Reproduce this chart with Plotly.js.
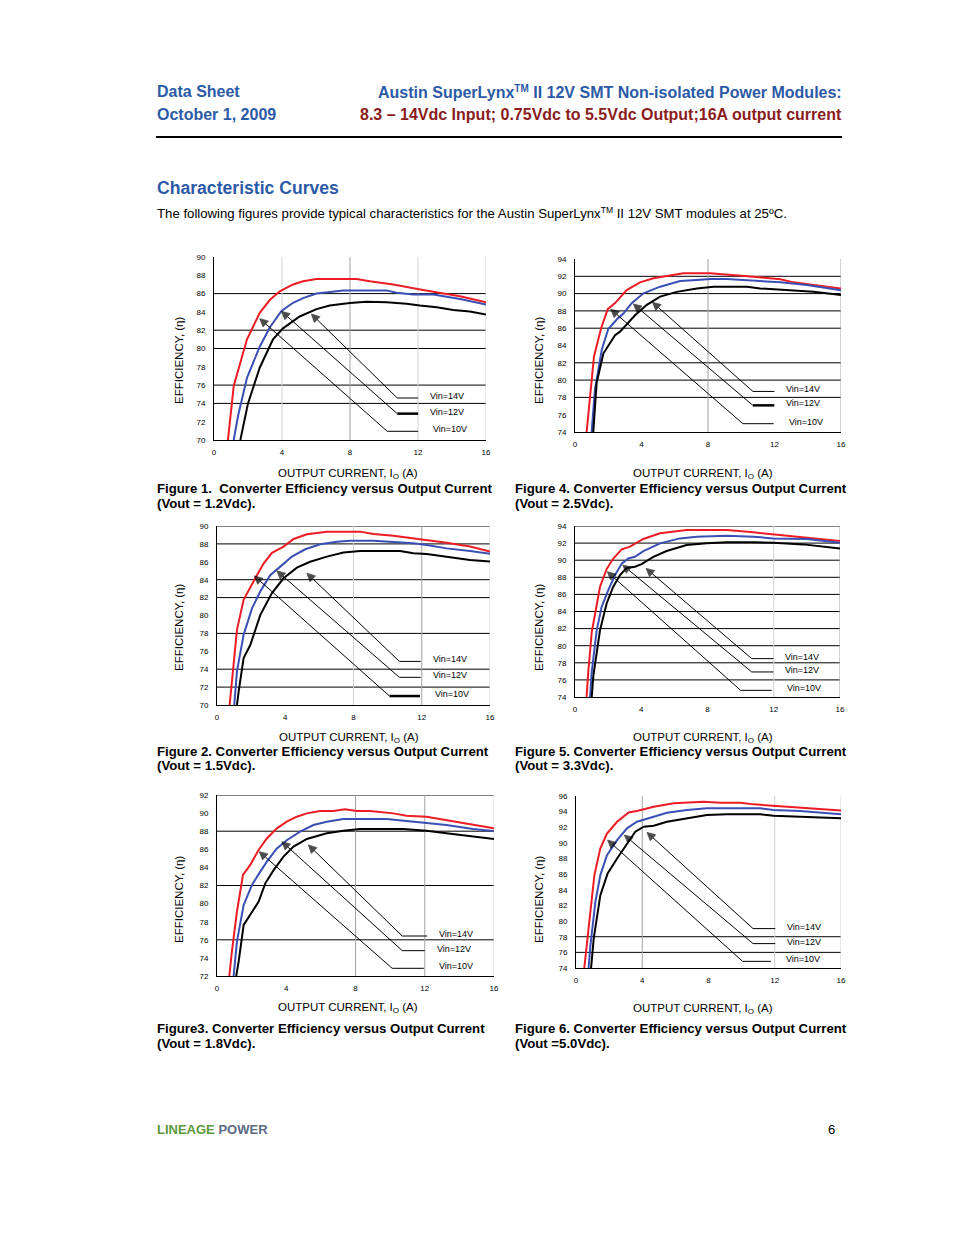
<!DOCTYPE html>
<html>
<head>
<meta charset="utf-8">
<script src="https://cdn.plot.ly/plotly-3.0.1.min.js"></script>
<style>
  html, body { margin: 0; padding: 0; background: #fff; }
  #page { width: 954px; height: 1235px; }
</style>
</head>
<body>
<div id="page"></div>
<script>

// Figura 1 - Vout = 1.2Vdc
const fig1_14V_x = [0.82, 1.16, 1.94, 2.69, 3.28, 3.87, 4.65, 5.24, 6.03, 8.38, 9.17, 10.54, 12.3, 12.9, 14.47, 16];
const fig1_14V_y = [70, 75.9, 81, 83.9, 85.3, 86.25, 87, 87.35, 87.6, 87.6, 87.35, 87, 86.4, 86.2, 85.7, 85.05];
const fig1_12V_x = [1.16, 1.41, 1.94, 2.69, 3.28, 3.97, 4.65, 5.24, 6.03, 6.81, 7.6, 10.15, 10.73, 11.72, 12.9, 14.47, 16];
const fig1_12V_y = [70, 72.6, 76.8, 80.2, 82.3, 84.1, 85, 85.5, 86, 86.2, 86.35, 86.35, 86.1, 85.9, 85.9, 85.4, 84.8];
const fig1_10V_x = [1.55, 2.0, 2.69, 3.47, 4.06, 5.04, 6.03, 6.81, 7.99, 8.97, 10.15, 11.33, 12.11, 13.1, 14.07, 15.05, 16];
const fig1_10V_y = [70, 74, 77.9, 81, 82.2, 83.5, 84.3, 84.7, 84.97, 85.1, 85.05, 84.9, 84.7, 84.5, 84.2, 84.05, 83.7];

// Figura 2 - Vout = 1.5Vdc
const fig2_14V_x = [0.74, 0.84, 1.17, 1.56, 1.95, 2.34, 2.73, 3.22, 3.9, 4.49, 5.27, 6.44, 8.39, 9.17, 10.34, 11.9, 13.46, 14.83, 16];
const fig2_14V_y = [70, 71.9, 78.4, 81.75, 83.2, 84.5, 85.8, 87.0, 87.7, 88.55, 89.07, 89.37, 89.37, 89.1, 88.9, 88.55, 88.14, 87.7, 87.14];
const fig2_12V_x = [1.01, 1.17, 1.56, 2.05, 2.54, 3.12, 3.71, 4.39, 5.17, 6.05, 7.02, 7.8, 9.17, 10.34, 11.51, 12.29, 13.46, 14.83, 16];
const fig2_12V_y = [70, 73.75, 77.84, 80.8, 82.7, 84.5, 85.46, 86.58, 87.4, 87.96, 88.25, 88.36, 88.36, 88.25, 88.07, 87.88, 87.5, 87.2, 86.9];
const fig2_10V_x = [1.17, 1.27, 1.56, 1.95, 2.54, 3.22, 3.9, 4.68, 5.46, 6.44, 7.41, 8.39, 10.73, 11.51, 12.29, 13.46, 14.83, 16];
const fig2_10V_y = [70, 71.52, 75.24, 76.7, 80.07, 82.5, 84.16, 85.35, 86.0, 86.58, 87.03, 87.2, 87.2, 86.95, 86.88, 86.58, 86.2, 86.02];

// Figura 3 - Vout = 1.8Vdc
const fig3_14V_x = [0.71, 0.86, 1.15, 1.5, 1.92, 2.4, 2.88, 3.46, 4.03, 4.61, 5.19, 5.95, 6.72, 7.39, 8.07, 8.84, 10.18, 10.95, 12.1, 13.25, 14.41, 16];
const fig3_14V_y = [72, 74.7, 79.1, 83.16, 84.27, 85.92, 87.2, 88.32, 89.05, 89.6, 89.97, 90.23, 90.23, 90.42, 90.23, 90.23, 89.97, 89.72, 89.6, 89.24, 88.87, 88.32];
const fig3_12V_x = [0.96, 1.15, 1.54, 2.02, 2.5, 2.88, 3.46, 4.03, 4.8, 5.57, 6.34, 7.3, 9.8, 10.95, 12.1, 13.25, 14.79, 16];
const fig3_12V_y = [72, 75.8, 79.84, 82.06, 83.53, 84.63, 86.1, 87.0, 87.95, 88.68, 89.05, 89.35, 89.35, 89.13, 88.98, 88.68, 88.24, 88.02];
const fig3_10V_x = [1.11, 1.25, 1.54, 1.92, 2.4, 2.79, 3.27, 3.84, 4.42, 5.19, 6.34, 7.3, 8.26, 10.76, 12.1, 13.25, 14.79, 16];
const fig3_10V_y = [72, 73.58, 77.64, 78.74, 80.2, 82.24, 83.7, 85.19, 86.3, 87.14, 87.77, 88.06, 88.24, 88.24, 88.06, 87.77, 87.4, 87.14];

// Figura 4 - Vout = 2.5Vdc
const fig4_14V_x = [0.7, 0.84, 1.14, 1.57, 1.97, 2.41, 3.11, 3.91, 4.72, 5.52, 6.52, 8.13, 9.53, 10.74, 12.35, 13.15, 14.35, 16];
const fig4_14V_y = [74, 76.96, 82.7, 86, 88.2, 88.9, 90.4, 91.3, 91.77, 92.04, 92.35, 92.35, 92.15, 91.96, 91.65, 91.3, 91, 90.6];
const fig4_12V_x = [1.0, 1.2, 1.61, 2.0, 2.51, 2.91, 3.41, 4.12, 5.12, 6.32, 7.33, 8.13, 9.13, 10.74, 12.35, 13.95, 16];
const fig4_12V_y = [74, 78.9, 83.5, 85.9, 87, 87.7, 88.9, 90.04, 90.8, 91.46, 91.58, 91.7, 91.7, 91.5, 91.3, 91, 90.4];
const fig4_10V_x = [1.1, 1.3, 1.71, 2.0, 2.41, 2.71, 3.11, 3.61, 4.32, 5.12, 6.12, 7.33, 8.33, 10.34, 11.14, 12.75, 14.35, 16];
const fig4_10V_y = [74, 79.65, 83.1, 84, 85.2, 85.6, 86.4, 87.5, 88.7, 89.65, 90.2, 90.6, 90.8, 90.8, 90.6, 90.4, 90.2, 89.85];

// Figura 5 - Vout = 3.3Vdc
const fig5_14V_x = [0.7, 0.8, 1.01, 1.21, 1.51, 1.91, 2.31, 2.82, 3.32, 4.13, 5.13, 6.74, 9.16, 10.77, 12.39, 14.0, 15.19, 16];
const fig5_14V_y = [74, 76.9, 81.6, 83.8, 86.9, 88.96, 90.2, 91.27, 91.58, 92.48, 93.14, 93.53, 93.53, 93.26, 92.95, 92.63, 92.48, 92.24];
const fig5_12V_x = [0.91, 1.01, 1.31, 1.61, 2.01, 2.42, 2.82, 3.22, 3.62, 4.13, 5.13, 6.34, 7.35, 9.16, 10.77, 11.97, 14.0, 16];
const fig5_12V_y = [74, 76.9, 81.8, 84.55, 86.5, 88.26, 89.6, 90.2, 90.4, 91.07, 91.97, 92.55, 92.75, 92.87, 92.75, 92.55, 92.48, 92.05];
const fig5_10V_x = [1.01, 1.11, 1.51, 1.91, 2.31, 2.72, 3.12, 3.62, 4.02, 4.73, 5.53, 6.74, 7.95, 9.16, 10.77, 11.97, 13.79, 16];
const fig5_10V_y = [74, 76.5, 81.8, 84.94, 86.9, 88.26, 89.1, 89.23, 89.54, 90.4, 91.07, 91.77, 91.97, 92.1, 92.1, 92.05, 91.85, 91.38];

// Figura 6 - Vout = 5.0Vdc
const fig6_14V_x = [0.5, 0.66, 0.87, 1.11, 1.47, 1.87, 2.48, 3.18, 3.68, 4.69, 5.9, 6.7, 7.71, 8.72, 9.93, 10.73, 11.93, 13.14, 14.75, 16];
const fig6_14V_y = [74, 77.33, 81.6, 85.88, 89.3, 91.2, 92.7, 93.9, 94.08, 94.63, 95.06, 95.19, 95.27, 95.15, 95.15, 94.93, 94.76, 94.63, 94.33, 94.16];
const fig6_12V_x = [0.76, 0.87, 1.17, 1.47, 1.87, 2.48, 3.08, 3.68, 4.49, 5.49, 6.7, 7.9, 11.13, 11.93, 13.54, 16];
const fig6_12V_y = [74, 76.9, 82.46, 85.88, 88.44, 90.36, 91.86, 92.71, 93.22, 93.86, 94.2, 94.42, 94.42, 94.2, 94.08, 93.65];
const fig6_10V_x = [0.91, 1.07, 1.47, 1.91, 2.48, 3.08, 3.58, 4.09, 4.69, 5.49, 6.7, 7.9, 9.11, 11.13, 11.93, 13.34, 14.75, 16];
const fig6_10V_y = [74, 77.76, 83.31, 86.09, 88.01, 89.93, 91.43, 92.07, 92.2, 92.71, 93.14, 93.57, 93.65, 93.65, 93.48, 93.35, 93.27, 93.14];

// Linhas de grade desenhadas em cada figura (valores de eficiência / corrente)
const fig1_hgrid = [74, 76, 80, 82, 86];
const fig2_hgrid = [72, 74, 78, 82, 84, 88, 90];
const fig3_hgrid = [76, 82, 88, 92];
const fig4_hgrid = [78, 80, 82, 86, 88, 90, 92];
const fig5_hgrid = [76, 78, 80, 82, 84, 86, 88, 90, 92, 94];
const fig6_hgrid = [76, 78];
const fig1_vgrid = [4, 8, 12, 16];
const fig2_vgrid = [8, 12, 16];
const fig3_vgrid = [8, 12, 16];
const fig4_vgrid = [8, 16];
const fig5_vgrid = [12, 16];
const fig6_vgrid = [4, 12, 16];

// Setas das legendas: [ponta x, ponta y, cauda x, cauda y, fim da linha x]
const fig1_arrows = [[2.69, 83.26, 10.19, 70.95, 12.01], [3.97, 84.06, 10.78, 72.88, 12.01], [5.73, 83.77, 10.78, 74.59, 12.01]];
const fig2_arrows = [[2.19, 84.42, 10.11, 71.0, 11.9], [3.51, 84.98, 10.69, 73.09, 11.94], [5.27, 84.72, 10.69, 74.87, 11.94]];
const fig3_arrows = [[2.44, 85.74, 10.12, 72.85, 11.95], [3.75, 86.84, 10.7, 74.8, 12.0], [5.28, 86.48, 10.7, 76.42, 12.14]];
const fig4_arrows = [[2.15, 88.19, 10.1, 74.96, 11.95], [3.51, 88.8, 10.7, 77.08, 11.99], [4.66, 89.0, 10.7, 78.69, 11.99]];
const fig5_arrows = [[1.95, 88.65, 10.0, 74.78, 11.88], [2.88, 89.43, 10.67, 76.93, 11.98], [4.29, 89.04, 10.67, 78.49, 11.98]];
const fig6_arrows = [[1.91, 90.36, 10.06, 74.85, 11.77], [2.92, 91.0, 10.69, 77.12, 12.03], [4.29, 91.34, 10.69, 79.04, 12.03]];
const vinLabels = ['Vin=10V', 'Vin=12V', 'Vin=14V'];
const xTicks = [0, 4, 8, 12, 16];

// Página
const W = 954, H = 1235;
const px = v => v / W;
const py = v => 1 - v / H;

const BLUE_HDR = '#2c5aa6';
const RED_HDR = '#8a1c1c';
const C_RED = '#ec1c24';
const C_BLUE = '#3a4fb4';
const C_BLACK = '#000000';
const G_LIGHT = '#d2d2d2';
const G_MID = '#a3a3a3';
const FONT = 'Liberation Sans, Arial, Helvetica, sans-serif';

// Sobrescrito / subscrito sem o tspan de retorno do <sup>/<sub>
const SUP_TM = '<span style="font-size:10px;baseline-shift:6px">TM</span>';
const SUB_O = '<span style="font-size:8px;baseline-shift:-2px">O</span>';

// Caixas em pixels [esq, topo, dir, base]
const panels = [
  { n: 1, box: [214, 257, 486, 440], yr: [70, 90], s: [[fig1_14V_x, fig1_14V_y], [fig1_12V_x, fig1_12V_y], [fig1_10V_x, fig1_10V_y]],
    hg: fig1_hgrid, vg: fig1_vgrid, vc: [G_LIGHT, G_MID, G_LIGHT, G_LIGHT], ar: fig1_arrows, thick: 1,
    yt: [179, 361], xt: [348, 474], cap: [157, 488, 'Figure 1.  Converter Efficiency versus Output Current', '(Vout = 1.2Vdc).'] },
  { n: 2, box: [575, 259, 841, 432], yr: [74, 94], s: [[fig4_14V_x, fig4_14V_y], [fig4_12V_x, fig4_12V_y], [fig4_10V_x, fig4_10V_y]],
    hg: fig4_hgrid, vg: fig4_vgrid, vc: [G_MID, G_MID], ar: fig4_arrows, thick: 1,
    yt: [539, 361], xt: [703, 474], cap: [515, 488, 'Figure 4. Converter Efficiency versus Output Current', '(Vout = 2.5Vdc).'] },
  { n: 3, box: [217, 526, 490, 705], yr: [70, 90], s: [[fig2_14V_x, fig2_14V_y], [fig2_12V_x, fig2_12V_y], [fig2_10V_x, fig2_10V_y]],
    hg: fig2_hgrid, vg: fig2_vgrid, vc: [G_LIGHT, G_MID, G_LIGHT], ar: fig2_arrows, thick: 0,
    yt: [179, 628], xt: [349, 738], cap: [157, 751, 'Figure 2. Converter Efficiency versus Output Current', '(Vout = 1.5Vdc).'] },
  { n: 4, box: [575, 526, 840, 697], yr: [74, 94], s: [[fig5_14V_x, fig5_14V_y], [fig5_12V_x, fig5_12V_y], [fig5_10V_x, fig5_10V_y]],
    hg: fig5_hgrid, vg: fig5_vgrid, vc: [G_LIGHT, G_MID], ar: fig5_arrows, thick: -1,
    yt: [539, 628], xt: [703, 738], cap: [515, 751, 'Figure 5. Converter Efficiency versus Output Current', '(Vout = 3.3Vdc).'] },
  { n: 5, box: [217, 795, 494, 976], yr: [72, 92], s: [[fig3_14V_x, fig3_14V_y], [fig3_12V_x, fig3_12V_y], [fig3_10V_x, fig3_10V_y]],
    hg: fig3_hgrid, vg: fig3_vgrid, vc: [G_MID, G_MID, G_LIGHT], ar: fig3_arrows, thick: -1,
    yt: [179, 900], xt: [348, 1008], cap: [157, 1028, 'Figure3. Converter Efficiency versus Output Current', '(Vout = 1.8Vdc).'] },
  { n: 6, box: [576, 796, 841, 968], yr: [74, 96], s: [[fig6_14V_x, fig6_14V_y], [fig6_12V_x, fig6_12V_y], [fig6_10V_x, fig6_10V_y]],
    hg: fig6_hgrid, vg: fig6_vgrid, vc: [G_MID, G_LIGHT, G_LIGHT], ar: fig6_arrows, thick: -1,
    yt: [539, 900], xt: [703, 1009], cap: [515, 1028, 'Figure 6. Converter Efficiency versus Output Current', '(Vout =5.0Vdc).'] }
];

const traces = [];
const shapes = [];
const annotations = [];
const layout = {
  width: W, height: H,
  margin: { l: 0, r: 0, t: 0, b: 0 },
  paper_bgcolor: '#ffffff',
  plot_bgcolor: 'rgba(0,0,0,0)',
  showlegend: false,
  font: { family: FONT, color: '#000' }
};

// Texto livre na página (coordenadas em pixels); corrige o recuo interno da anotação
const text = (x, y, t, size, opts = {}) => {
  const anchor = opts.xanchor || 'left';
  annotations.push(Object.assign({
    xref: 'paper', yref: 'paper', x: px(x), y: py(y),
    xanchor: 'left', yanchor: 'middle', showarrow: false, text: t,
    xshift: anchor === 'left' ? -2 : (anchor === 'right' ? 2 : 0),
    font: { family: FONT, size, color: '#000' }
  }, opts));
};

panels.forEach(p => {
  const sx = p.n === 1 ? '' : String(p.n);
  const xr = 'x' + sx, yr = 'y' + sx;
  const [l, t, r, b] = p.box;

  layout['xaxis' + sx] = {
    domain: [px(l), px(r)], anchor: yr, range: [0, 16],
    tickvals: xTicks, ticks: '', showgrid: false, zeroline: false,
    showline: true, linecolor: '#000', linewidth: 1,
    tickfont: { size: 8, family: FONT }, ticklabelstandoff: 4, fixedrange: true
  };
  layout['yaxis' + sx] = {
    domain: [py(b), py(t)], anchor: xr, range: p.yr, dtick: 2,
    ticks: '', showgrid: false, zeroline: false,
    showline: true, linecolor: '#000', linewidth: 1,
    tickfont: { size: 8, family: FONT }, ticklabelstandoff: 6, fixedrange: true
  };

  p.hg.forEach(v => shapes.push({
    type: 'line', layer: 'below', xref: xr + ' domain', yref: yr,
    x0: 0, x1: 1, y0: v, y1: v, line: { color: '#000', width: 1 }
  }));
  p.vg.forEach((v, i) => shapes.push({
    type: 'line', layer: 'below', xref: xr, yref: yr + ' domain',
    x0: v, x1: v, y0: 0, y1: 1, line: { color: p.vc[i], width: 1 }
  }));

  const colors = [C_RED, C_BLUE, C_BLACK];
  p.s.forEach((s, i) => traces.push({
    x: s[0], y: s[1], xaxis: xr, yaxis: yr, type: 'scatter', mode: 'lines',
    line: { color: colors[i], width: 2 }, hoverinfo: 'skip', cliponaxis: true
  }));

  p.ar.forEach((a, i) => {
    // haste da seta (cauda -> ponta) com ponta de seta orientada pelo segmento
    traces.push({
      x: [a[2], a[0]], y: [a[3], a[1]], xaxis: xr, yaxis: yr, type: 'scatter', mode: 'lines+markers',
      line: { color: '#000', width: 1 },
      marker: { symbol: 'arrow-up', angleref: 'previous', size: [0, 8], color: '#000',
        line: { width: 0.8, color: '#000' } },
      hoverinfo: 'skip', cliponaxis: false
    });
    shapes.push({
      type: 'line', xref: xr, yref: yr, x0: a[2], x1: a[4], y0: a[3], y1: a[3],
      line: { color: '#000', width: i === p.thick ? 2.5 : 1 }
    });
    annotations.push({
      xref: xr, yref: yr, x: a[4], y: a[3], xanchor: 'left', yanchor: 'middle',
      xshift: i === 0 ? 13 : 10, yshift: 2, showarrow: false, text: vinLabels[i],
      font: { family: FONT, size: 9, color: '#000' }
    });
  });

  text(p.yt[0], p.yt[1], 'EFFICIENCY, (η)', 11.5, { xanchor: 'center', textangle: -90 });
  text(p.xt[0], p.xt[1], 'OUTPUT CURRENT, I' + SUB_O + ' (A)', 11.5, { xanchor: 'center' });
  text(p.cap[0], p.cap[1], '<b>' + p.cap[2] + '</b>', 13.2);
  text(p.cap[0], p.cap[1] + 15, '<b>' + p.cap[3] + '</b>', 13.2);
});

// Cabeçalho, título da seção e rodapé
text(157, 92, '<b>Data Sheet</b>', 16, { font: { family: FONT, size: 16, color: BLUE_HDR } });
text(157, 115, '<b>October 1, 2009</b>', 16, { font: { family: FONT, size: 16, color: BLUE_HDR } });
text(842, 92, '<b>Austin SuperLynx' + SUP_TM + ' II 12V SMT Non-isolated Power Modules:</b>', 16,
  { xanchor: 'right', font: { family: FONT, size: 16, color: BLUE_HDR } });
text(842, 115, '<b>8.3 – 14Vdc Input; 0.75Vdc to 5.5Vdc Output;16A output current</b>', 16,
  { xanchor: 'right', font: { family: FONT, size: 16, color: RED_HDR } });
shapes.push({ type: 'line', xref: 'paper', yref: 'paper', x0: px(156), x1: px(842), y0: py(137), y1: py(137),
  line: { color: '#000', width: 2 } });
text(157, 188, '<b>Characteristic Curves</b>', 17.6, { font: { family: FONT, size: 17.6, color: BLUE_HDR } });
text(157, 213, 'The following figures provide typical characteristics for the Austin SuperLynx' +
  '<span style="font-size:8.5px;baseline-shift:5px">TM</span> II 12V SMT modules at 25ºC.', 13.2);
text(157, 1129, '<b><span style="color:#5b9a3c">LINEAGE</span> <span style="color:#5c6b82">POWER</span></b>', 13);
text(828, 1129, '6', 13);

layout.shapes = shapes;
layout.annotations = annotations;

Plotly.newPlot('page', traces, layout, { staticPlot: true, displayModeBar: false });
</script>
</body>
</html>
